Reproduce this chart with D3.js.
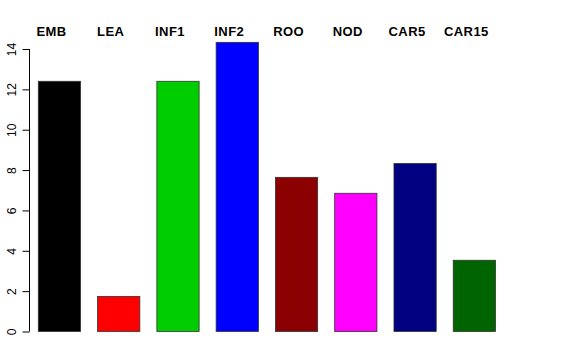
<!DOCTYPE html>
<html>
<head>
<meta charset="utf-8">
<script src="https://cdn.jsdelivr.net/npm/d3@7"></script>
<style>
  body { margin: 0; background: #fff; }
  svg { display: block; font-family: "Liberation Sans", Arial, sans-serif; }
</style>
</head>
<body>
<svg id="chart" width="576" height="360"></svg>
<script>
// sample names and values
var categories = ["EMB", "LEA", "INF1", "INF2", "ROO", "NOD", "CAR5", "CAR15"];
var values = [12.4, 1.74, 12.4, 14.33, 7.64, 6.85, 8.33, 3.53];
var barColors = ["#000000", "#ff0000", "#00cd00", "#0000ff", "#8b0000", "#ff00ff", "#000080", "#006400"];
var yTicks = [0, 2, 4, 6, 8, 10, 12, 14];

var svg = d3.select("#chart");

var x = d3.scaleBand()
	.domain(categories)
	.range([38.3, 495.5])
	.paddingInner(0.287)
	.paddingOuter(0);

var y = d3.scaleLinear().domain([0, 14]).range([331.5, 49]);

// bars
svg.append("g")
	.selectAll("rect")
	.data(values)
	.enter()
	.append("rect")
	.attr("x", function(d, i){ return x(categories[i]); })
	.attr("y", function(d){ return y(d); })
	.attr("width", x.bandwidth())
	.attr("height", function(d){ return y(0) - y(d); })
	.attr("fill", function(d, i){ return barColors[i]; })
	.attr("stroke", "#333")
	.attr("stroke-width", 0.8);

// y axis, R style
var yAxis = svg.append("g")
	.attr("transform", "translate(29.5,0)")
	.call(d3.axisLeft(y).tickValues(yTicks).tickSize(7).tickPadding(0));

yAxis.select(".domain")
	.attr("d", "M0," + y(0) + "V" + y(14))
	.attr("stroke", "#000");

yAxis.selectAll(".tick line").attr("stroke", "#000");

yAxis.selectAll(".tick text")
	.attr("transform", "translate(-18,0) rotate(-90)")
	.attr("x", 0)
	.attr("dy", "0.35em")
	.attr("text-anchor", "middle")
	.attr("font-size", 12)
	.attr("fill", "#000");

// labels above the plot
svg.append("g")
	.selectAll("text")
	.data(categories)
	.enter()
	.append("text")
	.attr("x", function(d){ return x(d) + x.bandwidth() / 2 - 8; })
	.attr("y", 35.5)
	.attr("text-anchor", "middle")
	.attr("font-size", 13)
	.attr("letter-spacing", 0.4)
	.attr("font-weight", "bold")
	.attr("fill", "#000")
	.text(function(d){ return d; });
</script>
</body>
</html>
